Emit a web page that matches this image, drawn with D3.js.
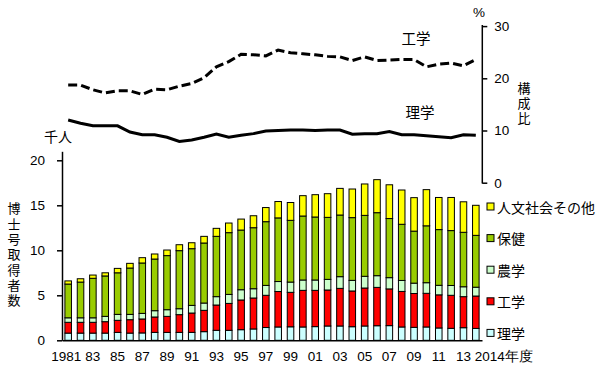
<!DOCTYPE html>
<html lang="ja">
<head>
	<meta charset="UTF-8">
	<title>博士号取得者数</title>
	<script type="text/javascript" src="https://cdn.jsdelivr.net/npm/d3@7"></script>
</head>
<style>
	body { margin: 0; background: #fff; }
	svg { font-family: "Liberation Sans", "Noto Sans CJK JP", sans-serif; }
	.jp { font-family: "Noto Sans CJK JP", sans-serif; }
	.vt { writing-mode: vertical-rl; text-orientation: upright; }
</style>
<body>
	<script type="text/javascript">
		var width = 600;
		var height = 366;

		// data (千人 / %)
		var years = [];
		for (var yr = 1981; yr <= 2014; yr++) years.push(yr);

		var science     = [0.80,0.80,0.80,0.80,0.88,0.80,0.82,0.88,0.88,0.88,0.88,0.96,1.11,1.11,1.18,1.26,1.42,1.48,1.50,1.48,1.52,1.59,1.59,1.51,1.59,1.62,1.63,1.48,1.44,1.48,1.37,1.33,1.40,1.32];
		var engineering = [1.20,1.20,1.20,1.27,1.34,1.49,1.55,1.71,1.78,1.97,2.15,2.37,2.81,2.99,3.30,3.44,3.58,3.94,3.83,4.07,4.03,4.00,4.18,3.97,4.22,4.26,4.08,3.95,3.76,3.74,3.68,3.67,3.45,3.60];
		var agriculture = [0.50,0.50,0.50,0.59,0.66,0.59,0.62,0.70,0.74,0.66,0.85,0.81,0.93,1.00,1.14,1.03,1.10,1.11,1.14,1.15,1.15,1.18,1.30,1.18,1.30,1.30,1.25,1.22,1.15,1.18,1.06,1.09,1.10,0.98];
		var health      = [3.75,3.97,4.39,4.49,4.62,5.15,5.60,5.74,6.01,6.45,6.30,6.67,6.70,6.86,6.63,6.78,7.08,7.07,6.86,7.11,7.00,6.89,6.85,6.97,6.77,7.00,6.57,6.24,5.78,6.32,6.19,6.10,6.05,5.76];
		var humanities  = [0.35,0.37,0.36,0.35,0.49,0.52,0.59,0.56,0.62,0.66,0.66,0.74,0.89,1.07,1.22,1.33,1.57,1.82,1.98,2.26,2.48,2.63,2.96,3.18,3.49,3.67,3.75,3.81,3.72,4.02,3.57,3.68,3.39,3.34];

		var engShare = [18.7,18.7,17.8,17.2,17.6,17.6,16.9,17.9,17.8,18.5,19.0,20.1,22.2,23.2,24.6,24.5,24.3,25.4,24.9,24.7,24.5,24.2,24.1,23.4,24.1,23.4,23.5,23.6,23.6,22.2,22.7,22.9,22.4,23.6];
		var sciShare = [12.0,11.4,10.9,10.9,10.9,9.7,9.2,9.2,8.7,7.9,8.2,8.7,9.3,8.7,9.1,9.4,9.9,10.0,10.1,10.1,10.0,10.1,10.1,9.3,9.4,9.4,9.8,9.2,9.2,9.0,8.8,8.6,9.2,9.1];

		var seriesNames  = ["理学", "工学", "農学", "保健", "人文社会その他"];
		var seriesColors = ["#ccffff", "#ff0000", "#ccffcc", "#99cc00", "#ffff00"];
		var leftTicks  = [0, 5, 10, 15, 20];
		var rightTicks = [0, 10, 20, 30];

		var rows = years.map(function(y, i) {
			return { year: y, "理学": science[i], "工学": engineering[i], "農学": agriculture[i],
			         "保健": health[i], "人文社会その他": humanities[i] };
		});

		var svg = d3.select('body')
					.append('svg')
					.attr('width', width)
					.attr('height', height);

		var x = d3.scaleBand()
				  .domain(years)
				  .range([62, 482])
				  .paddingInner(0.47)
				  .paddingOuter(0.235);
		var yL = d3.scaleLinear().domain([0, 21]).range([340.3, 151.3]);
		var yR = d3.scaleLinear().domain([0, 30]).range([182.7, 26.1]);

		// stacked bars
		var stack = d3.stack().keys(seriesNames)(rows);
		svg.append('g')
		   .selectAll('g')
		   .data(stack)
		   .enter()
		   .append('g')
		   .attr('fill', function(d, i) { return seriesColors[i]; })
		   .selectAll('rect')
		   .data(function(d) { return d; })
		   .enter()
		   .append('rect')
		   .attr('x', function(d) { return x(d.data.year); })
		   .attr('width', x.bandwidth())
		   .attr('y', function(d) { return yL(d[1]); })
		   .attr('height', function(d) { return yL(d[0]) - yL(d[1]); })
		   .attr('stroke', '#000')
		   .attr('stroke-width', 1);

		// left axis
		var axL = svg.append('g')
		   .attr('transform', 'translate(62,0)')
		   .call(d3.axisLeft(yL).tickValues(leftTicks).tickSize(5).tickSizeOuter(0).tickPadding(12));
		// right axis
		var axR = svg.append('g')
		   .attr('transform', 'translate(482.3,0)')
		   .call(d3.axisRight(yR).tickValues(rightTicks).tickSize(5).tickSizeOuter(0).tickPadding(7));
		[axL, axR].forEach(function(a) {
			a.selectAll('path, line').attr('stroke', '#000').attr('stroke-width', 1.5);
			a.selectAll('text').attr('font-size', 13.5).attr('fill', '#000')
			 .attr('font-family', '"Liberation Sans", sans-serif');
		});
		axR.select('path').attr('d', 'M0,25V183.5');

		// bottom axis
		var xTicks = years.filter(function(y) { return y % 2 == 1 || y == 2014; });
		var axB = svg.append('g')
		   .attr('transform', 'translate(0,340.3)')
		   .call(d3.axisBottom(x).tickValues(xTicks).tickSize(0).tickPadding(11)
		   .tickFormat(function(y) {
		   		if (y == 1981) return '1981';
		   		if (y == 2014) return '2014年度';
		   		return String(y).slice(2);
		   }));
		axB.select('path').attr('stroke', '#000').attr('stroke-width', 1.5);
		axB.selectAll('text').attr('font-size', 13.5).attr('fill', '#000');
		axB.selectAll('.tick')
		   .filter(function(d) { return d == 1981; })
		   .select('text')
		   .attr('x', -2);
		axB.selectAll('.tick')
		   .filter(function(d) { return d == 2014; })
		   .select('text')
		   .attr('text-anchor', 'start')
		   .attr('x', -1);

		// share lines
		var line = function(vals) {
			return d3.line()
					 .x(function(d, i) { return x(years[i]) + x.bandwidth() / 2; })
					 .y(function(d) { return yR(d); })(vals);
		};
		svg.append('path')
		   .attr('d', line(engShare))
		   .attr('fill', 'none')
		   .attr('stroke', '#000')
		   .attr('stroke-width', 3)
		   .attr('stroke-dasharray', '9,4');
		svg.append('path')
		   .attr('d', line(sciShare))
		   .attr('fill', 'none')
		   .attr('stroke', '#000')
		   .attr('stroke-width', 3);

		// labels
		var label = function(t, lx, ly, size) {
			return svg.append('text')
					  .attr('class', 'jp')
					  .attr('x', lx).attr('y', ly)
					  .attr('text-anchor', 'middle')
					  .attr('font-size', size || 14)
					  .text(t);
		};
		label('工学', 416, 44, 14.5);
		label('理学', 420, 118, 14.5);
		label('千人', 58, 142, 14);
		svg.append('text').attr('x', 479).attr('y', 17).attr('text-anchor', 'middle')
		   .attr('font-size', 13.5).text('%');

		// vertical axis titles
		svg.append('text')
		   .attr('class', 'jp vt')
		   .attr('x', 14).attr('y', 202)
		   .attr('font-size', 13)
		   .attr('letter-spacing', 2.3)
		   .text('博士号取得者数');
		svg.append('text')
		   .attr('class', 'jp vt')
		   .attr('x', 524).attr('y', 82)
		   .attr('font-size', 13)
		   .attr('letter-spacing', 2)
		   .text('構成比');

		// legend (top to bottom reversed)
		var legendItems = seriesNames.slice().reverse();
		var legendColors = seriesColors.slice().reverse();
		var lg = svg.append('g')
					.selectAll('g')
					.data(legendItems)
					.enter()
					.append('g')
					.attr('transform', function(d, i) { return 'translate(487,' + (203 + i * 31.6) + ')'; });
		lg.append('rect')
		  .attr('width', 7).attr('height', 7)
		  .attr('fill', function(d, i) { return legendColors[i]; })
		  .attr('stroke', '#000').attr('stroke-width', 1);
		lg.append('text')
		  .attr('class', 'jp')
		  .attr('x', 10).attr('y', 3.5)
		  .attr('dominant-baseline', 'central')
		  .attr('font-size', 14)
		  .text(function(d) { return d; });
	</script>
</body>
</html>
